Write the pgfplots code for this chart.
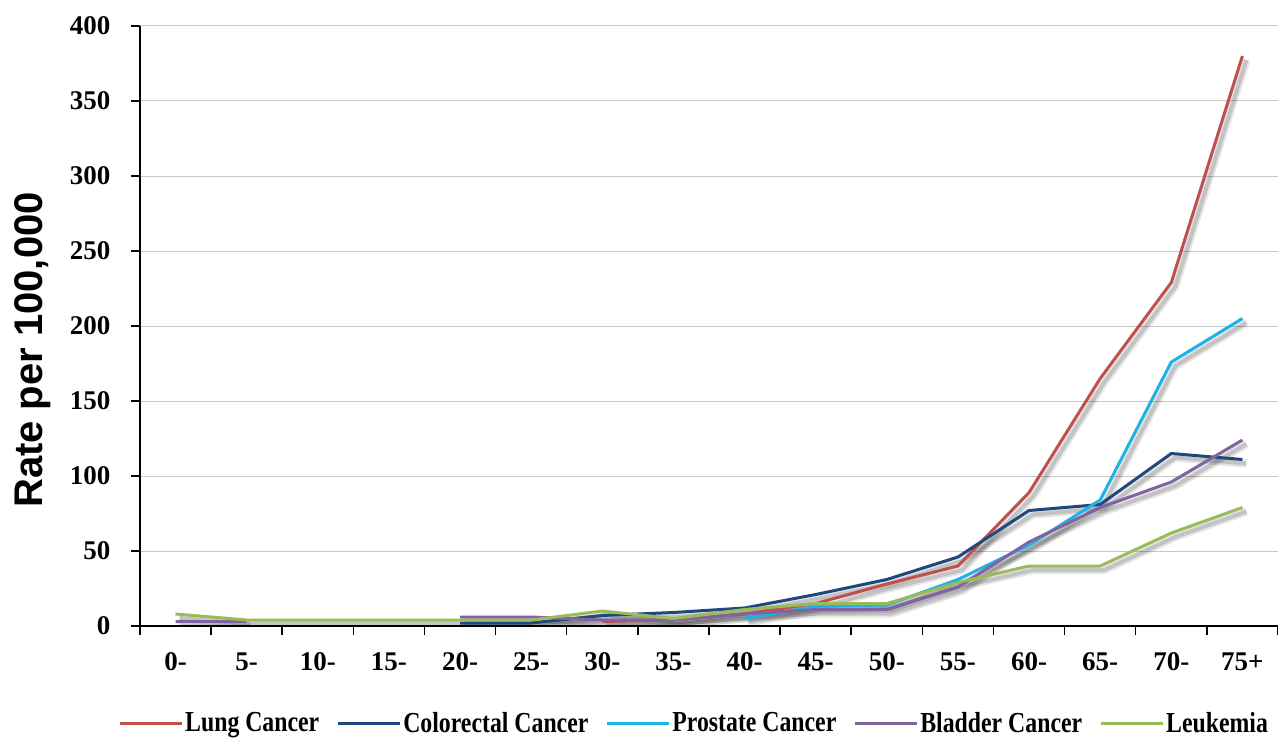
\documentclass[border=0pt]{standalone}
\usepackage{fontspec}
\setmainfont{Liberation Serif}
\newfontfamily\arialfont{Liberation Sans}
\newfontfamily\condfont[FakeStretch=0.82]{Liberation Serif}
\usepackage{pgfplots}
\usepackage{pgfplotstable}
\pgfplotsset{compat=1.18}
\definecolor{clung}{HTML}{C0504D}
\definecolor{ccol}{HTML}{1F497D}
\definecolor{cpro}{HTML}{1DB3EA}
\definecolor{cbla}{HTML}{8064A2}
\definecolor{cleu}{HTML}{9BBB59}
\pgfplotstableread{
x lung col pro bla leu
0  nan nan nan 3   8
1  nan nan nan 3   4
2  nan nan nan nan 4
3  nan nan nan nan 4
4  nan 2   nan 6   4
5  nan 2   nan 6   4
6  3   7   nan 4   10
7  4   9   nan 4   5
8  8   12  5   8   11
9  15  21  13  11  15
10 28  31  14  11  15
11 40  46  31  26  29
12 89  77  54  56  40
13 165 81  84  79  40
14 229 115 176 96  62
15 380 111 205 124 79
}\datatable
\begin{document}
\begin{tikzpicture}
\begin{axis}[
  scale only axis, width=1138pt, height=600pt,
  xmin=-0.5, xmax=15.5, ymin=0, ymax=400,
  axis lines*=left,
  axis line style={line width=1.5pt, black},
  ytick={0,50,...,400},
  xtick={0,...,15},
  xticklabels={0-,5-,10-,15-,20-,25-,30-,35-,40-,45-,50-,55-,60-,65-,70-,75+},
  major x tick style={draw=none},
  minor xtick={-0.5,0.5,...,15.5},
  tick align=outside, major tick length=9pt, minor tick length=9pt,
  tick style={line width=1.5pt, black},
  ymajorgrids, grid style={black!22, line width=1pt},
  /pgf/number format/assume math mode=true,
  ticklabel style={font=\bfseries\fontsize{27}{30}\selectfont},
  xticklabel style={yshift=-14pt},
  yticklabel style={xshift=-17pt},
  ylabel={\arialfont\bfseries Rate per 100,000},
  ylabel style={font=\fontsize{40}{42}\selectfont, at={(rel axis cs:-0.094,0.46)}, anchor=center},
  unbounded coords=jump,
  legend columns=-1,
  legend style={draw=none, fill=none, at={(rel axis cs:0,0)}, anchor=west, xshift=-22pt, yshift=-97pt, inner sep=0pt,
    font=\condfont\bfseries\fontsize{29}{31}\selectfont,
    /tikz/every even column/.append style={column sep=15pt}},
  legend image code/.code={\draw[#1, line width=3pt] (0pt,0pt) -- (62pt,0pt);},
  every axis plot/.append style={line width=3pt, line join=round},
]
\foreach \c in {lung,col,pro,bla,leu}{
  \addplot[forget plot, black, opacity=0.10, line width=8pt, xshift=4pt, yshift=-4pt] table[x=x, y=\c] {\datatable};
  \addplot[forget plot, black, opacity=0.15, line width=4pt, xshift=4pt, yshift=-4pt] table[x=x, y=\c] {\datatable};
}
\addplot[clung] table[x=x, y=lung] {\datatable};
\addplot[ccol] table[x=x, y=col] {\datatable};
\addplot[cpro] table[x=x, y=pro] {\datatable};
\addplot[cbla] table[x=x, y=bla] {\datatable};
\addplot[cleu] table[x=x, y=leu] {\datatable};
\legend{Lung Cancer, Colorectal Cancer, Prostate Cancer, Bladder Cancer, Leukemia}
\end{axis}
\pgfresetboundingbox
\path ([xshift=-140pt, yshift=-114pt]current axis.south west) rectangle ++(1278pt,740pt);
\end{tikzpicture}
\end{document}
